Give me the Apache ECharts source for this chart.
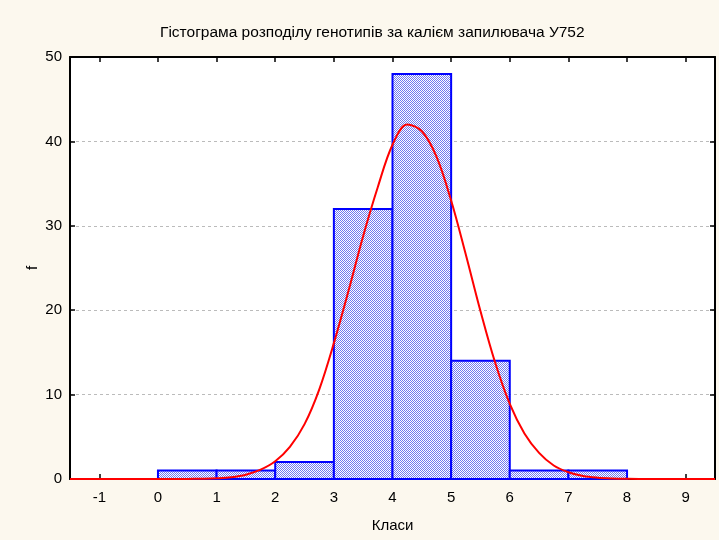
<!DOCTYPE html>
<html>
<head>
<meta charset="utf-8">
<script src="https://cdn.jsdelivr.net/npm/echarts@6/dist/echarts.min.js"></script>
<style>
  html, body { margin: 0; padding: 0; background: #fcf8ee; }
  #hist { width: 719px; height: 540px; }
</style>
</head>
<body>
<div id="hist"></div>
<script>
// класи гістограми: [від, до, частота]
var binStart = [0, 1, 2, 3, 4, 5, 6, 7];
var binEnd   = [1, 2, 3, 4, 5, 6, 7, 8];
var binFreq  = [1, 1, 2, 32, 48, 14, 1, 1];

// нормальна крива
var curveX = [-1.5, -1.25, -1, -0.75, -0.5, -0.25, 0, 0.25, 0.5, 0.75,
              1, 1.25, 1.5, 1.75, 2, 2.25, 2.5, 2.75, 3, 3.25,
              3.5, 3.75, 4, 4.25, 4.5, 4.75, 5, 5.25, 5.5, 5.75,
              6, 6.25, 6.5, 6.75, 7, 7.25, 7.5, 7.75, 8, 8.25,
              8.5, 8.75, 9, 9.25, 9.5];
var curveY = [0, 0, 0, 0, 0, 0, 0, 0, 0.01, 0.03,
              0.08, 0.2, 0.5, 1.1, 2.1, 3.8, 6.5, 10.6, 16.1, 22.3,
              28.8, 34.6, 39.6, 42.0, 41.2, 38.2, 33.0, 26.6, 19.9, 13.8,
              8.9, 5.4, 3.1, 1.6, 0.8, 0.35, 0.15, 0.06, 0.02, 0,
              0, 0, 0, 0, 0];

var xTicks = [-1, 0, 1, 2, 3, 4, 5, 6, 7, 8, 9];

function hist(echarts) {
    var myChart = echarts.init(document.getElementById('hist'));

    // штриховка стовпців
    var pat = document.createElement('canvas');
    pat.width = 2; pat.height = 2;
    var ctx = pat.getContext('2d');
    ctx.fillStyle = '#ffffff'; ctx.fillRect(0, 0, 2, 2);
    ctx.fillStyle = '#7079f0'; ctx.fillRect(0, 0, 1, 1); ctx.fillRect(1, 1, 1, 1);

    var bars = [], line = [], i;
    for (i = 0; i < binFreq.length; i++) { bars.push([binStart[i], binEnd[i], binFreq[i]]); }
    for (i = 0; i < curveX.length; i++) { line.push([curveX[i], curveY[i]]); }

    var fam = 'Liberation Sans, Arial, sans-serif';
    var font = { color: '#000', fontSize: 15, fontFamily: fam };

    var option = {
        backgroundColor: '#fcf8ee',
        animation: false,
        title: { text: 'Гістограма розподілу генотипів за калієм запилювача У752',
                 left: 155, top: 20,
                 textStyle: { color: '#000', fontSize: 15.5, fontWeight: 'normal', fontFamily: fam } },
        grid: { left: 70, right: 4, top: 57, bottom: 61, show: true, backgroundColor: '#ffffff', borderWidth: 0 },
        xAxis: [
            { type: 'value', min: -1.5, max: 9.5, position: 'bottom',
              name: 'Класи', nameLocation: 'middle', nameGap: 39, nameMoveOverlap: false, nameTextStyle: font,
              axisLine: { show: true, onZero: false, lineStyle: { color: '#000', width: 2 } },
              axisTick: { show: true, inside: true, length: 5, customValues: xTicks, lineStyle: { color: '#000', width: 1.5 } },
              axisLabel: Object.assign({ margin: 11, customValues: xTicks }, font),
              splitLine: { show: false } },
            { type: 'value', min: -1.5, max: 9.5, position: 'top',
              axisLine: { show: true, onZero: false, lineStyle: { color: '#000', width: 2 } },
              axisTick: { show: true, inside: true, length: 5, customValues: xTicks, lineStyle: { color: '#000', width: 1.5 } },
              axisLabel: { show: false }, splitLine: { show: false } }
        ],
        yAxis: [
            { type: 'value', min: 0, max: 50, interval: 10, position: 'left',
              name: 'f', nameLocation: 'middle', nameGap: 30, nameMoveOverlap: false, nameTextStyle: font,
              axisLine: { show: true, onZero: false, lineStyle: { color: '#000', width: 2 } },
              axisTick: { show: true, inside: true, length: 5, lineStyle: { color: '#000', width: 1.5 } },
              axisLabel: Object.assign({ margin: 8 }, font),
              splitLine: { show: true, lineStyle: { color: '#bbbbbb', type: [3, 3], width: 1 } } },
            { type: 'value', min: 0, max: 50, interval: 10, position: 'right',
              axisLine: { show: true, onZero: false, lineStyle: { color: '#000', width: 2 } },
              axisTick: { show: true, inside: true, length: 5, lineStyle: { color: '#000', width: 1.5 } },
              axisLabel: { show: false }, splitLine: { show: false } }
        ],
        series: [
            {   name: 'Частота', type: 'custom', xAxisIndex: 0, yAxisIndex: 0, data: bars,
                renderItem: function (params, api) {
                    var p0 = api.coord([api.value(0), api.value(2)]);
                    var p1 = api.coord([api.value(1), 0]);
                    return { type: 'rect',
                             shape: { x: p0[0], y: p0[1], width: p1[0] - p0[0], height: p1[1] - p0[1] },
                             style: { fill: { image: pat, repeat: 'repeat' }, stroke: '#0000ff', lineWidth: 2 } };
                },
                z: 2
            },
            {   name: 'Норма', type: 'line', xAxisIndex: 0, yAxisIndex: 0, data: line,
                smooth: 0.35, showSymbol: false,
                lineStyle: { color: '#ff0000', width: 2 }, z: 3
            }
        ]
    };
    myChart.setOption(option);
}

hist(echarts);
</script>
</body>
</html>
